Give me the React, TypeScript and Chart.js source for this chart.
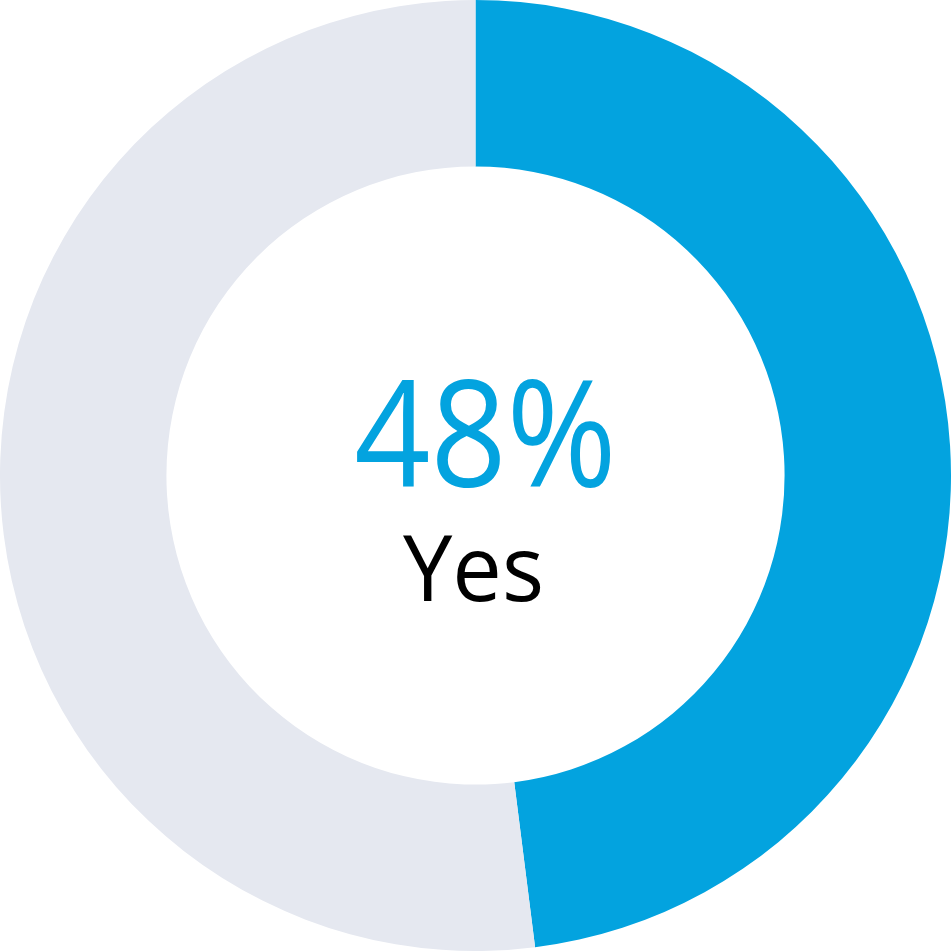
import React, { useEffect, useRef } from "react";
import { Chart, registerables } from "chart.js";

Chart.register(...registerables);

const categories = ["Yes", "No"];
const values = [48, 52];
const sliceColors = ["#03A3DF", "#E5E8F0"];
const centerValue = "48%";
const centerLabel = "Yes";

const centerTextPlugin = {
  id: "centerText",
  afterDraw(chart: any) {
    const { ctx, chartArea } = chart;
    const cx = (chartArea.left + chartArea.right) / 2;
    const cy = (chartArea.top + chartArea.bottom) / 2;
    ctx.save();
    ctx.textAlign = "center";
    ctx.textBaseline = "alphabetic";
    ctx.fillStyle = sliceColors[0];
    ctx.font = '148px "Open Sans"';
    ctx.save();
    ctx.translate(cx + 10, cy + 11);
    ctx.scale(0.9, 1);
    ctx.fillText(centerValue, 0, 0);
    ctx.restore();
    ctx.fillStyle = "#000000";
    ctx.font = '92px "Open Sans"';
    ctx.save();
    ctx.translate(cx - 2, cy + 125);
    ctx.scale(0.96, 1);
    ctx.fillText(centerLabel, 0, 0);
    ctx.restore();
    ctx.restore();
  },
};

export default function App() {
  const ref = useRef<HTMLCanvasElement | null>(null);
  useEffect(() => {
    document.body.style.margin = "0";
    const chart = new Chart(ref.current as HTMLCanvasElement, {
      type: "doughnut",
      data: {
        labels: categories,
        datasets: [
          {
            data: values,
            backgroundColor: sliceColors,
            borderWidth: 0,
          },
        ],
      },
      options: {
        animation: false,
        responsive: false,
        cutout: "65%",
        layout: { padding: 0 },
        plugins: {
          legend: { display: false },
          tooltip: { enabled: false },
        },
      },
      plugins: [centerTextPlugin],
    });
    return () => chart.destroy();
  }, []);
  return (
    <div style={{ width: 951, height: 951 }}>
      <canvas ref={ref} width={951} height={951} style={{ display: "block" }} />
    </div>
  );
}
